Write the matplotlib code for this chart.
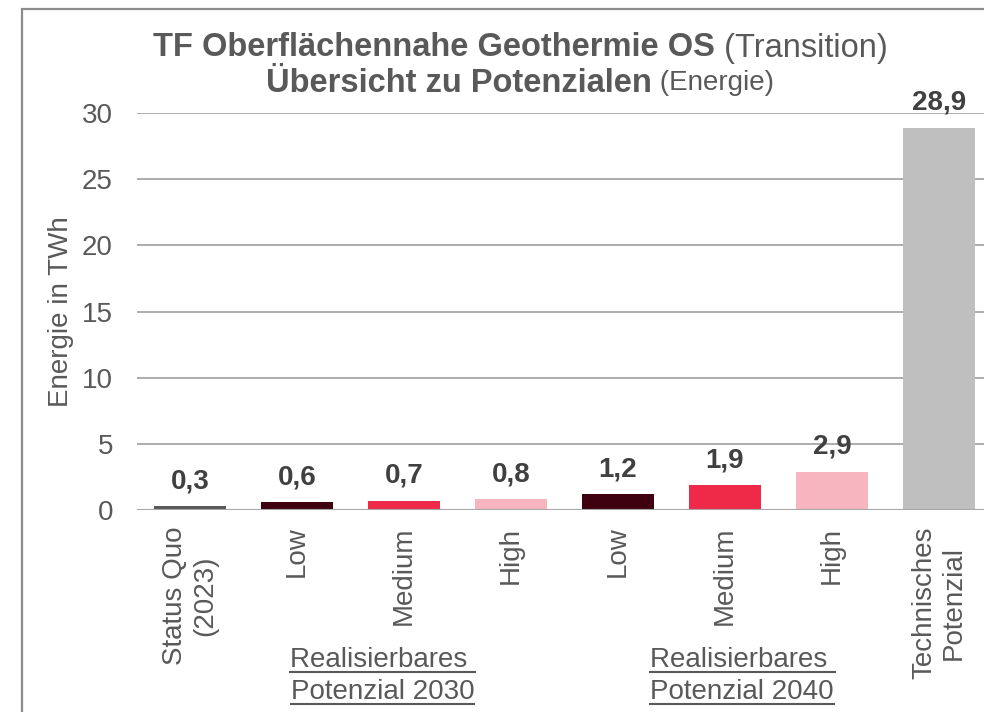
import matplotlib
matplotlib.use("Agg")
import matplotlib.pyplot as plt
from matplotlib.patches import Rectangle
from matplotlib.lines import Line2D
from matplotlib.transforms import blended_transform_factory

plt.rcParams['font.family'] = ['Liberation Sans', 'DejaVu Sans']

categories = ["Status Quo\n(2023)", "Low", "Medium", "High", "Low", "Medium", "High", "Technisches\nPotenzial"]
values = [0.3, 0.6, 0.7, 0.8, 1.2, 1.9, 2.9, 28.9]
value_labels = ["0,3", "0,6", "0,7", "0,8", "1,2", "1,9", "2,9", "28,9"]
colors = ["#595959", "#3f000f", "#ef2a48", "#f7b5bf", "#3f000f", "#ef2a48", "#f7b5bf", "#bfbfbf"]
yticks = [0, 5, 10, 15, 20, 25, 30]
group_labels = [("Realisierbares ", "Potenzial 2030"), ("Realisierbares ", "Potenzial 2040")]
group_centers = [1.80, 5.16]

W, H = 984, 712
fig = plt.figure(figsize=(W / 100, H / 100), dpi=100)
TXT = "#595959"

# axes placement (pixels)
x_left, x_right = 136.5, 992.5
y_zero, y_top = 510, 113
ax = fig.add_axes([x_left / W, 1 - y_zero / H, (x_right - x_left) / W, (y_zero - y_top) / H])
ax.set_xlim(-0.5, len(categories) - 0.5)
ax.set_ylim(0, 30)

xs = list(range(len(categories)))
ax.bar(xs, values, width=0.67, color=colors, zorder=2)
for x, v, lab in zip(xs, values, value_labels):
    ax.annotate(lab, (x, v), xytext=(0, 8.5), textcoords="offset points",
                ha="center", va="bottom", fontsize=20, fontweight="bold", color="#404040")

ax.set_yticks(yticks)
ax.set_yticklabels([str(t) for t in yticks])
ax.yaxis.grid(True, color="#a6a6a6", linewidth=1.3, zorder=0)
ax.set_axisbelow(True)
ax.axhline(0, color="#a6a6a6", linewidth=1.5, zorder=3)
for s in ax.spines.values():
    s.set_visible(False)
ax.tick_params(axis="y", length=0, pad=17, labelsize=20, labelcolor=TXT)
ax.set_xticks(xs)
ax.set_xticklabels(categories, rotation=90, ha="center", va="top", multialignment="center")
ax.tick_params(axis="x", length=0, pad=12, labelsize=20, labelcolor=TXT)
ax.set_ylabel("Energie in TWh", fontsize=20, color=TXT, labelpad=6)

# figure border
fig.patches.append(Rectangle((22 / W, -0.1), 1.2, 1 - 9 / H + 0.1, transform=fig.transFigure,
                             fill=False, edgecolor="#8c8c8c", linewidth=1.6))

fig.canvas.draw()
renderer = fig.canvas.get_renderer()


def composite_line(parts, cx, cy):
    texts = []
    for s, size, weight in parts:
        t = fig.text(0, cy / H, s, fontsize=size, fontweight=weight, color=TXT,
                     ha="left", va="center", transform=fig.transFigure)
        texts.append(t)
    widths = [t.get_window_extent(renderer).width for t in texts]
    total = sum(widths)
    x = cx - total / 2
    for t, w in zip(texts, widths):
        t.set_x(x / W)
        x += w


composite_line([("TF Oberflächennahe Geothermie OS", 23.5, "bold"), (" (Transition)", 23.5, "normal")], 520, H - 48)
composite_line([("Übersicht zu Potenzialen", 23.5, "bold"), (" (Energie)", 20, "normal")], 520, H - 83)

# group labels with underline
tr = blended_transform_factory(ax.transData, fig.transFigure)
for (l1, l2), gx in zip(group_labels, group_centers):
    for s, yc in ((l1, 660), (l2, 692)):
        t = fig.text(gx, 1 - yc / H, s, fontsize=20, color=TXT, ha="center", va="center", transform=tr)
        bb = t.get_window_extent(renderer)
        yline = bb.y0 + 1
        fig.add_artist(Line2D([bb.x0 / W, bb.x1 / W], [yline / H, yline / H],
                              transform=fig.transFigure, color=TXT, linewidth=1.5))

fig.savefig("out.png", dpi=100)
